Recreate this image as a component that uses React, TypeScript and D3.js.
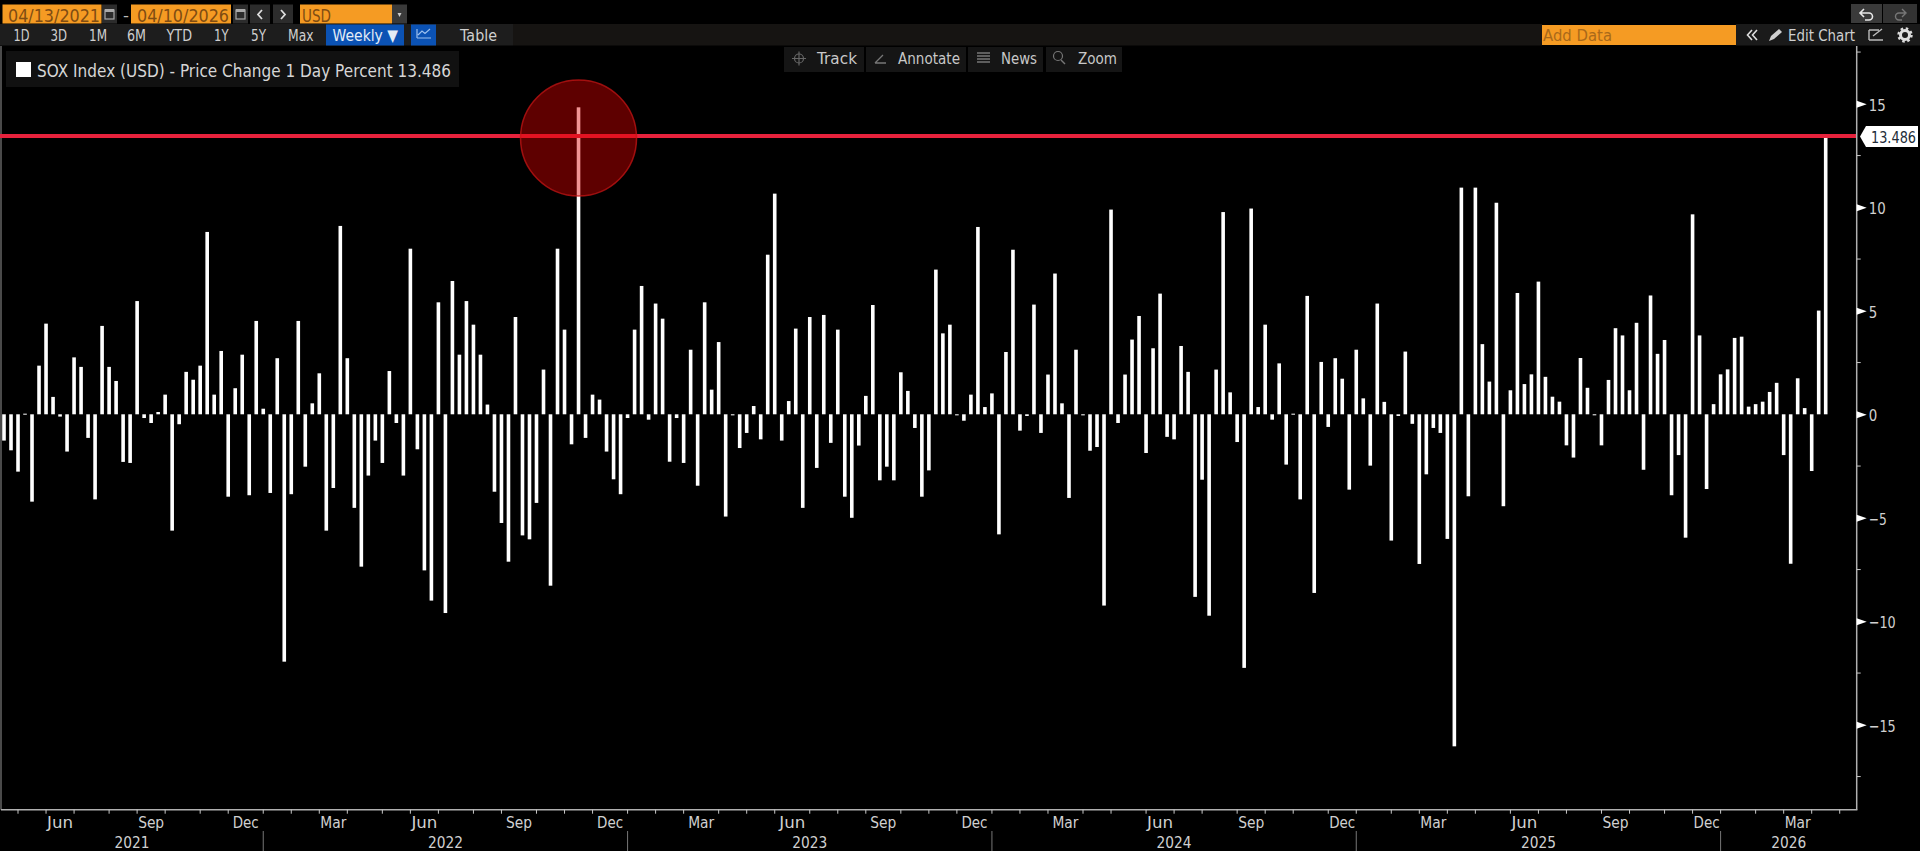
import React, { useEffect } from 'react';
import * as d3 from 'd3';

const WIDTH = 1920;
const HEIGHT = 851;

// weekly price change, percent (first bar = 2021-04-16)
const changes2021 = [
  -1.27, -1.74, -2.77, 0.03, -4.22, 2.35, 4.38, 0.84, -0.11, -1.8, 2.75, 2.29, -1.14, -4.11, 4.27, 2.29, 1.61, -2.3,
  -2.35, 5.47, -0.18, -0.42, 0.11, 0.95, -5.62, -0.48, 2.05, 1.67, 2.35, 8.81, 0.95, 3.06, -3.98, 1.26, 2.88, -3.91,
  4.51,
];
const changes2022 = [
  0.27, -3.8, 2.71, -11.95, -3.86, 4.51, -2.53, 0.53, 1.98, -5.62, -3.56, 9.1, 2.71, -4.52, -7.36, -2.96, -1.27,
  -2.35, 2.09, -0.42, -2.96, 8.0, -1.69, -7.54, -9.0, 5.41, -9.6, 6.44, 2.88, 5.47, 4.33, 2.88, 0.47, -3.74, -5.25,
  -7.12, 4.7, -5.85, -6.04, -4.28, 2.16, -8.28, 8.0, 4.09, -1.45, 14.83, -1.14, 0.95, 0.71, -1.8, -3.14, -3.86,
];
const changes2023 = [
  -0.18, 4.09, 6.2, -0.26, 5.35, 4.62, -2.29, -0.18, -2.35, 3.12, -3.45, 5.41, 1.19, 3.49, -4.94, -0.05, -1.63, -0.9,
  0.4, -1.21, 7.71, 10.66, -1.27, 0.64, 4.14, -4.52, 4.7, -2.59, 4.8, -1.38, 4.09, -3.98, -5.0, -1.51, 0.89, 5.28,
  -3.19, -2.53, -3.19, 2.03, 1.13, -0.66, -3.98, -2.71, 6.99, 3.91, 4.33, -0.05, -0.31, 0.95, 9.05, 0.35,
];
const changes2024 = [
  1.01, -5.8, 3.01, 7.95, -0.79, -0.08, 5.3, -0.9, 1.92, 6.8, 0.53, -4.04, 3.12, -0.05, -1.76, -1.58, -9.24, 9.89,
  -0.42, 1.92, 3.61, 4.75, -1.87, 3.19, 5.83, -1.09, -1.21, 3.3, 2.05, -8.82, -3.16, -9.73, 2.16, 9.77, 1.06, -1.34,
  -12.25, 9.94, 0.35, 4.33, -0.26, 2.46, -2.43, 0.03, -4.11, 5.72, -8.63, 2.53, -0.61, 2.71, 1.72, -3.64,
];
const changes2025 = [
  3.12, 0.77, -2.48, 5.35, 0.6, -6.1, -0.08, 3.03, -0.46, -7.23, -2.9, -0.66, -0.9, -6.02, -16.04, 10.95, -3.96,
  10.95, 3.39, 1.58, 10.22, -4.44, 1.16, 5.86, 1.46, 1.93, 6.41, 1.81, 0.85, 0.61, -1.5, -2.09, 2.72, 1.28, -0.02,
  -1.5, 1.66, 4.16, 3.81, 1.16, 4.42, -2.68, 5.74, 2.92, 3.59, -3.91, -1.97, -5.96, 9.66, 3.81, -3.61, 0.49,
];
const changes2026 = [1.93, 2.17, 3.69, 3.75, 0.37, 0.49, 0.61, 1.08, 1.52, -1.97, -7.22, 1.74, 0.3, -2.74, 5.01, 13.486];

const changes = [...changes2021, ...changes2022, ...changes2023, ...changes2024, ...changes2025, ...changes2026];
const lastValue = 13.486;

const yTicks = [-15, -10, -5, 0, 5, 10, 15];
const yMinorTicks = [-17.5, -12.5, -7.5, -2.5, 2.5, 7.5, 12.5, 17.5];

const rangeButtons = ['1D', '3D', '1M', '6M', 'YTD', '1Y', '5Y', 'Max'];
const rangeButtonSpans = [[13.5, 29.5], [50.5, 67], [89, 107], [127, 146], [166.5, 192], [214, 228.5], [251, 266], [288, 313.5]];

const toolbarItems = ['Track', 'Annotate', 'News', 'Zoom'];
const toolbarBoxes = [[784, 864], [866, 966], [968, 1043], [1046, 1122]];
const toolbarTextSpans = [[817, 857], [898, 960], [1001, 1037], [1078, 1117]];

const firstWeek = new Date(Date.UTC(2021, 3, 16));
const lastWeek = new Date(Date.UTC(2026, 3, 10));
const weeks = d3.utcFriday.range(firstWeek, d3.utcDay.offset(lastWeek, 1));

const x = d3.scaleUtc().domain([firstWeek, lastWeek]).range([4, 1825.7]);
const y = d3.scaleLinear().domain([-15, 15]).range([724.8, 103.8]);

// Bloomberg puts month ticks on the last weekly bar before the month starts
const monthTick = (m: Date) => d3.utcFriday.floor(d3.utcDay.offset(m, -1));
const months = d3.utcMonths(new Date(Date.UTC(2021, 4, 1)), new Date(Date.UTC(2026, 4, 2)));
const monthLabels: Record<number, string> = { 2: 'Mar', 5: 'Jun', 8: 'Sep', 11: 'Dec' };
const yearStarts = months.filter((m) => m.getUTCMonth() === 0);

const AXIS_X = 1856.7;
const AXIS_Y = 809.7;
const FONT = '"DejaVu Sans", sans-serif';

type LabelProps = { x0: number; x1: number; cy: number; size?: number; fill?: string; children: React.ReactNode };

// text squeezed to the width it has in the narrow terminal font
function Label({ x0, x1, cy, size = 16.5, fill = '#cfcfcf', children }: LabelProps) {
  return (
    <text
      x={x0}
      y={cy}
      textLength={x1 - x0}
      lengthAdjust="spacingAndGlyphs"
      dominantBaseline="central"
      fontFamily={FONT}
      fontSize={size}
      fill={fill}
    >
      {children}
    </text>
  );
}

function CalendarIcon({ left }: { left: number }) {
  return (
    <g>
      <rect x={left} y={4.5} width={15} height={19} fill="#2c2c2c" />
      <rect x={left + 3} y={10} width={9} height={9} fill="none" stroke="#aaa" strokeWidth={1.2} />
      <rect x={left + 3} y={9} width={9} height={3} fill="#aaa" />
    </g>
  );
}

function TopBar() {
  const orange = '#f59b23';
  const orangeText = '#7f4c12';
  return (
    <g>
      <rect x={2.5} y={4.5} width={99} height={19} fill={orange} />
      <Label x0={8} x1={100} cy={15} size={18} fill={orangeText}>04/13/2021</Label>
      <CalendarIcon left={102} />
      <Label x0={123} x1={129} cy={15} fill="#bbb">-</Label>
      <rect x={131} y={4.5} width={100} height={19} fill={orange} />
      <Label x0={137} x1={229} cy={15} size={18} fill={orangeText}>04/10/2026</Label>
      <CalendarIcon left={233} />
      <rect x={250} y={4.5} width={20} height={19} fill="#2c2c2c" />
      <path d="M262 10l-4 4.5 4 4.5" fill="none" stroke="#ddd" strokeWidth={1.8} />
      <rect x={273} y={4.5} width={20} height={19} fill="#2c2c2c" />
      <path d="M281 10l4 4.5-4 4.5" fill="none" stroke="#ddd" strokeWidth={1.8} />
      <rect x={300} y={4.5} width={92} height={19} fill={orange} />
      <Label x0={302} x1={331} cy={15} size={18} fill={orangeText}>USD</Label>
      <rect x={392} y={4.5} width={15} height={19} fill="#3a3a3a" />
      <path d="M397.5 13h4l-2 4z" fill="#ccc" />

      <rect x={0} y={24} width={513} height={21.5} fill="#1d1d1d" />
      <rect x={513} y={24} width={1029} height={21.5} fill="#161412" />
      {rangeButtons.map((b, i) => (
        <Label key={b} x0={rangeButtonSpans[i][0]} x1={rangeButtonSpans[i][1]} cy={35}>{b}</Label>
      ))}
      <rect x={326} y={24.5} width={78} height={21} fill="#0b52b4" />
      <Label x0={332.5} x1={398} cy={35} fill="#e4ecf6">Weekly ▼</Label>
      <rect x={411} y={24.5} width={25} height={21} fill="#0b52b4" />
      <path d="M417 38v-9M417 38h14M418 35l4-4 3 2.5 5-4.5" fill="none" stroke="#9cc0ee" strokeWidth={1.2} />
      <Label x0={460} x1={497} cy={35}>Table</Label>

      <rect x={1542} y={25} width={194} height={20} fill={orange} />
      <Label x0={1543} x1={1612} cy={35} fill="#a9691a">Add Data</Label>
      <rect x={1736} y={24} width={184} height={21.5} fill="#1a1a1a" />
      <path d="M1752 30l-4.500 5 4.500 5M1757 30l-4.500 5 4.500 5" fill="none" stroke="#ddd" strokeWidth={1.6} />
      <path d="M1769 41l2-5 8-7 3 3-8 7z" fill="#cfcfcf" />
      <Label x0={1788} x1={1855} cy={35}>Edit Chart</Label>
      <path d="M1869 40h14M1869 30h10M1869 30v10M1873 36l9-7" fill="none" stroke="#bbb" strokeWidth={1.4} />
      <circle cx={1905} cy={35} r={4.5} fill="none" stroke="#ddd" strokeWidth={3} />
      <circle cx={1905} cy={35} r={6.5} fill="none" stroke="#ddd" strokeWidth={2.4} strokeDasharray="2.5 2.6" />

      <rect x={1851} y={4} width={31} height={19} fill="#3a3a3a" />
      <path d="M1860 13h9a3.500 3.500 0 0 1 0 7h-4M1864 9l-4 4 4 4" fill="none" stroke="#e8e8e8" strokeWidth={1.6} />
      <rect x={1883} y={4} width={34} height={19} fill="#333" />
      <path d="M1905 13h-6a3.500 3.500 0 0 0 0 7h3M1902 9l4 4-4 4" fill="none" stroke="#777" strokeWidth={1.4} />
    </g>
  );
}

function Toolbar() {
  return (
    <g>
      {toolbarItems.map((t, i) => (
        <g key={t}>
          <rect x={toolbarBoxes[i][0]} y={47} width={toolbarBoxes[i][1] - toolbarBoxes[i][0]} height={25} fill="#151515" />
          <Label x0={toolbarTextSpans[i][0]} x1={toolbarTextSpans[i][1]} cy={58.5} fill="#c8c8c8">{t}</Label>
        </g>
      ))}
      <circle cx={799} cy={58.5} r={4.5} fill="none" stroke="#666" strokeWidth={1.2} />
      <path d="M792 58.500h14M799 51.500v14" stroke="#666" strokeWidth={1.2} />
      <path d="M875 63h11M875 63l8-8" fill="none" stroke="#777" strokeWidth={1.3} />
      <path d="M977 53h13M977 56h13M977 59h13M977 62h13" stroke="#777" strokeWidth={1.5} />
      <circle cx={1058} cy={56} r={4.5} fill="none" stroke="#777" strokeWidth={1.2} />
      <path d="M1061 60l4 4" stroke="#777" strokeWidth={1.5} />
    </g>
  );
}

function Legend() {
  return (
    <g>
      <rect x={6} y={51} width={453} height={36} fill="#111" />
      <rect x={16} y={62} width={15} height={15} fill="#fff" />
      <Label x0={37} x1={451} cy={71} size={17} fill="#d6d6d6">SOX Index (USD) - Price Change 1 Day Percent 13.486</Label>
    </g>
  );
}

function YAxis() {
  return (
    <g>
      <line x1={AXIS_X} x2={AXIS_X} y1={46} y2={AXIS_Y} stroke="#b0b0b0" strokeWidth={1.5} />
      {yMinorTicks.map((t) => (
        <line key={t} x1={AXIS_X} x2={AXIS_X + 4} y1={y(t)} y2={y(t)} stroke="#c8c8c8" strokeWidth={1} />
      ))}
      {yTicks.map((t) => (
        <g key={t}>
          <path d={`M${AXIS_X} ${y(t) - 3}L${AXIS_X + 10} ${y(t) + 0.5}L${AXIS_X} ${y(t) + 4}Z`} fill="#fff" />
          <text x={AXIS_X + 12} y={y(t) + 1.2} dominantBaseline="central" fontFamily={FONT} fontSize={16.5} fill="#d0d0d0"
            textLength={t < 0 ? (Math.abs(t) >= 10 ? 27 : 18) : t >= 10 ? 17 : 8.5} lengthAdjust="spacingAndGlyphs">
            {t < 0 ? `\u2212${-t}` : t}
          </text>
        </g>
      ))}
    </g>
  );
}

function XAxis() {
  return (
    <g>
      <line x1={1} x2={AXIS_X + 0.7} y1={AXIS_Y} y2={AXIS_Y} stroke="#b0b0b0" strokeWidth={1.5} />
      {months.map((m, i) => {
        const tx = x(monthTick(m));
        const next = months[i + 1];
        const label = monthLabels[m.getUTCMonth()];
        return (
          <g key={+m}>
            <line x1={tx} x2={tx} y1={AXIS_Y} y2={AXIS_Y + 4} stroke="#c8c8c8" strokeWidth={1} />
            {label && next && (
              <text x={(tx + x(monthTick(next))) / 2} y={822.5} textAnchor="middle" dominantBaseline="central"
                fontFamily={FONT} fontSize={16.5} fill="#d0d0d0" textLength={26} lengthAdjust="spacingAndGlyphs">
                {label}
              </text>
            )}
          </g>
        );
      })}
      {yearStarts.map((m) => (
        <line key={+m} x1={x(monthTick(m))} x2={x(monthTick(m))} y1={831} y2={HEIGHT} stroke="#777" strokeWidth={1} />
      ))}
      {d3.range(2021, 2027).map((yr) => {
        const start = yr === 2021 ? 1 : x(monthTick(new Date(Date.UTC(yr, 0, 1))));
        const end = yr === 2026 ? AXIS_X : x(monthTick(new Date(Date.UTC(yr + 1, 0, 1))));
        return (
          <text key={yr} x={(start + end) / 2} y={842} textAnchor="middle" dominantBaseline="central"
            fontFamily={FONT} fontSize={16.5} fill="#d0d0d0" textLength={35} lengthAdjust="spacingAndGlyphs">
            {yr}
          </text>
        );
      })}
    </g>
  );
}

export default function App() {
  useEffect(() => {
    document.body.style.margin = '0';
    document.body.style.background = '#000';
  }, []);

  const peakWeek = weeks[changes.indexOf(d3.max(changes) as number)];

  return (
    <svg width={WIDTH} height={HEIGHT} style={{ position: 'absolute', left: 0, top: 0, background: '#000' }}>
      <line x1={1} x2={1} y1={46} y2={AXIS_Y} stroke="#4a4a4a" strokeWidth={2} />
      <g fill="#fff">
        {changes.map((v, i) => (
          <rect key={i} x={x(weeks[i]) - 1.8} width={3.6} y={v >= 0 ? y(v) : y(0)} height={Math.max(Math.abs(y(v) - y(0)), 1)} />
        ))}
      </g>
      <line x1={0} x2={AXIS_X} y1={y(lastValue) + 0.8} y2={y(lastValue) + 0.8} stroke="#e6223c" strokeWidth={4} />
      <circle cx={x(peakWeek)} cy={138} r={58} fill="rgba(225,0,0,0.42)" stroke="rgba(200,20,20,0.75)" strokeWidth={1.5} />
      <XAxis />
      <YAxis />
      <path d="M1860 136.500l6-10.500h52v21h-52z" fill="#fff" />
      <Label x0={1871} x1={1916} cy={137} size={16} fill="#222c38">13.486</Label>
      <TopBar />
      <Toolbar />
      <Legend />
    </svg>
  );
}
